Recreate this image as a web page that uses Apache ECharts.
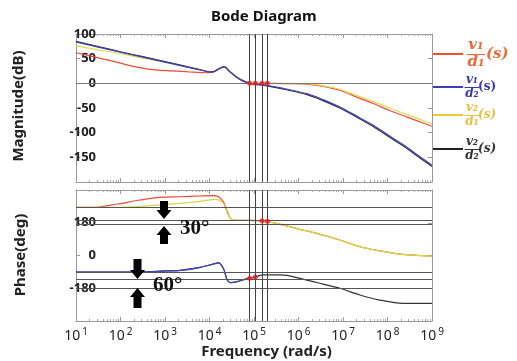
<!DOCTYPE html>
<html>
<head>
<meta charset="utf-8">
<script src="https://cdn.jsdelivr.net/npm/echarts@6/dist/echarts.min.js"></script>
<style>
  html, body { margin: 0; padding: 0; background: #fff; }
  #BodeChart { width: 517px; height: 361px; }
</style>
</head>
<body>
<div id="BodeChart"></div>
<script>
// Bode 图：幅值 + 相位，频率用 log10 指数 [exp, value]
var xTickExp = [1, 2, 3, 4, 5, 6, 7, 8, 9];
var magTicks = [-200, -150, -100, -50, 0, 50, 100];
var phaseTicks = [-360, -180, 0, 180, 360];

var magRed = [[1, 62], [1.55, 50.7], [2, 41], [2.29, 34.5], [2.67, 28.4], [3.05, 25.6], [3.5, 23.5], [3.95, 21.5], [4.1, 23],
  [4.2, 28], [4.33, 33.7], [4.45, 25], [4.6, 14], [4.75, 6], [4.9, 0.5], [5.03, 0], [5.3, 0], [5.8, -0.5], [6.19, -1.5],
  [6.56, -6], [6.93, -14], [7.31, -28], [7.68, -41], [8.05, -55], [8.43, -68], [8.7, -77], [9, -87]];
var magYellow = [[1, 76], [1.5, 68], [2, 60], [2.5, 51], [3, 43], [3.5, 34], [3.8, 28], [4.0, 24], [4.1, 24.5], [4.2, 29],
  [4.33, 34], [4.45, 25], [4.6, 14], [4.75, 6], [4.9, 0.5], [5.03, 0], [5.3, 0], [5.8, 0], [6.19, -0.5], [6.56, -5],
  [6.93, -12], [7.31, -25], [7.68, -37], [8.05, -50], [8.43, -63], [8.7, -72], [9, -82]];
var magBlue = [[1, 84], [1.5, 73.5], [2, 63], [2.5, 53], [3, 43], [3.6, 31], [3.9, 25], [4.0, 23], [4.1, 24], [4.2, 29],
  [4.33, 34], [4.45, 24], [4.6, 13], [4.75, 5], [4.9, 0], [5.03, -1.5], [5.29, -4], [5.7, -11], [6.19, -21],
  [6.55, -33], [6.93, -48], [7.3, -66], [7.68, -85], [8.05, -107], [8.43, -129], [8.7, -147], [9, -166]];
var magBlack = [[1, 85], [1.5, 74.5], [2, 64], [2.5, 54], [3, 44], [3.6, 31.5], [3.9, 25], [4.0, 23], [4.1, 24], [4.2, 29],
  [4.33, 34], [4.45, 24], [4.6, 13], [4.75, 5], [4.9, 0], [5.03, -2], [5.29, -5], [5.7, -12.5], [6.19, -23],
  [6.55, -35], [6.93, -50], [7.3, -68], [7.68, -87.5], [8.05, -109.5], [8.43, -131.5], [8.7, -149.5], [9, -168.5]];

var phaseRed = [[1, 264], [1.39, 264], [1.93, 283], [2.44, 305], [2.89, 320], [3.34, 323], [3.79, 327], [4.08, 329],
  [4.2, 323], [4.31, 296], [4.4, 241], [4.47, 204], [4.53, 195], [4.91, 193], [5.29, 186], [5.65, 168], [6.03, 144],
  [6.41, 122], [6.93, 85], [7.38, 48], [7.83, 25], [8.28, 8], [9, -3]];
var phaseYellow = [[1, 264], [1.6, 264], [2.29, 268], [3.05, 281], [3.79, 298], [4.13, 309], [4.31, 287], [4.42, 223],
  [4.53, 195], [4.91, 193], [5.29, 186], [5.65, 168], [6.03, 144], [6.41, 122], [6.93, 85], [7.38, 48], [7.83, 25],
  [8.28, 8], [9, -3]];
var phaseBlue = [[1, -91], [2.5, -90], [3.0, -85], [3.34, -82], [3.79, -65], [4.08, -47], [4.2, -40], [4.31, -70],
  [4.4, -135], [4.47, -149], [4.62, -144], [4.85, -127], [4.91, -125], [5.03, -118]];
var phaseBlack = [[1, -91], [2.5, -90], [3.0, -85], [3.34, -82], [3.79, -65], [4.08, -47], [4.2, -40], [4.31, -70],
  [4.4, -135], [4.47, -149], [4.62, -144], [4.85, -127], [4.91, -125], [5.03, -118], [5.2, -107], [5.6, -107],
  [6.19, -135], [6.55, -157], [6.93, -180], [7.38, -217], [7.83, -245], [8.35, -263], [9, -263]];

var crossExp = [4.90, 5.03, 5.18, 5.30];
var phaseRefLines = [265, 191, 171, -91, -128, -180];
var dotMag = [[4.90, 0], [5.03, 0], [5.18, 0], [5.30, 0]];
var dotPhase = [[5.18, 191], [5.30, 188], [4.90, -125], [5.03, -118]];

var colors = { red: "#f04a3a", yellow: "#dcdc50", blue: "#4040c0", black: "#333333" };

function toHz(arr) {
  return arr.map(function (p) { return [Math.pow(10, p[0]), p[1]]; });
}

var boldFont = "Noto Sans";
var frameColor = "#999";

function xAxisCfg(grid, pos, labels) {
  return {
    type: "log", logBase: 10, gridIndex: grid, position: pos,
    min: Math.pow(10, xTickExp[0]), max: Math.pow(10, xTickExp[xTickExp.length - 1]),
    axisLine: { show: true, onZero: false, lineStyle: { color: frameColor } },
    axisTick: { show: true, inside: true, length: 4, lineStyle: { color: frameColor } },
    minorTick: { show: true, splitNumber: 9, length: 2, lineStyle: { color: "#aaa" } },
    splitLine: { show: false },
    axisLabel: labels ? {
      show: true, margin: 6, color: "#222", fontFamily: boldFont, fontSize: 14,
      formatter: function (v) { return "10{s|" + Math.round(Math.log10(v)) + "}"; },
      rich: { s: { fontSize: 10, fontFamily: boldFont, color: "#222", verticalAlign: "top", padding: [0, 0, 8, 2] } }
    } : { show: false },
    name: labels ? "Frequency (rad/s)" : "",
    nameLocation: "middle", nameGap: 23,
    nameTextStyle: { fontFamily: boldFont, fontWeight: "bold", fontSize: 15, color: "#222", padding: [0, 0, 0, 25] }
  };
}

// 注意：这里的 margin 用负值把刻度文字拉回轴线旁
function yAxisCfg(grid, pos, ticks, labels) {
  return {
    type: "value", gridIndex: grid, position: pos,
    min: ticks[0], max: ticks[ticks.length - 1], interval: ticks[1] - ticks[0],
    axisLine: { show: true, lineStyle: { color: frameColor } },
    axisTick: { show: true, inside: true, length: 4, lineStyle: { color: frameColor } },
    splitLine: { show: false },
    axisLabel: labels ? {
      show: true, margin: -20, align: "right", verticalAlign: "middle",
      color: "#222", fontFamily: boldFont, fontWeight: "bold", fontSize: 13,
      showMinLabel: false, showMaxLabel: grid === 0
    } : { show: false }
  };
}

function lineSeries(name, data, color, xi, yi, z) {
  return {
    name: name, type: "line", xAxisIndex: xi, yAxisIndex: yi, data: toHz(data),
    showSymbol: false, smooth: 0.3, z: z,
    lineStyle: { color: color, width: 1.2 }, itemStyle: { color: color }
  };
}

function vLines() {
  return {
    silent: true, symbol: "none", label: { show: false },
    lineStyle: { color: "#444", width: 1, type: "solid" },
    data: crossExp.map(function (e) { return { xAxis: Math.pow(10, e) }; })
  };
}

function hLines(values, color) {
  return {
    silent: true, symbol: "none", label: { show: false },
    lineStyle: { color: color, width: 1, type: "solid" },
    data: values.map(function (v) { return { yAxis: v }; })
  };
}

// 右侧图例：分式文本
function fracLegend(y, num, den, lineColor, textColor, fs, cx, sx, upright) {
  var font = { fontFamily: "DejaVu Serif", fontWeight: "bold", fontStyle: "italic", fontSize: fs, fill: textColor };
  var half = fs * 0.62;
  return [
    { type: "line", shape: { x1: 433, y1: y, x2: 463, y2: y }, style: { stroke: lineColor, lineWidth: 2 } },
    { type: "text", x: cx, y: y - 1, style: Object.assign({ text: num, align: "center", verticalAlign: "bottom" }, font) },
    { type: "line", shape: { x1: cx - half, y1: y + 0.5, x2: cx + half, y2: y + 0.5 }, style: { stroke: textColor, lineWidth: 1 } },
    { type: "text", x: cx, y: y + 1, style: Object.assign({ text: den, align: "center", verticalAlign: "top" }, font) },
    { type: "text", x: sx, y: y, style: Object.assign({ text: "(s)", align: "left", verticalAlign: "middle" }, font, upright ? { fontStyle: "normal" } : {}) }
  ];
}

function arrow(cx, y0, y1, down) {
  var hw = 4, hh = 7.5, headLen = 9;
  var pts;
  if (down) {
    var yh = y1 - headLen;
    pts = [[cx - hw, y0], [cx + hw, y0], [cx + hw, yh], [cx + hh, yh], [cx, y1], [cx - hh, yh], [cx - hw, yh]];
  } else {
    var yh2 = y0 + headLen;
    pts = [[cx, y0], [cx + hh, yh2], [cx + hw, yh2], [cx + hw, y1], [cx - hw, y1], [cx - hw, yh2], [cx - hh, yh2]];
  }
  return { type: "polygon", shape: { points: pts }, style: { fill: "#000" }, z: 100 };
}

function axisName(text, x, y) {
  return {
    type: "text", x: x, y: y, rotation: Math.PI / 2,
    style: { text: text, align: "center", verticalAlign: "middle", fontFamily: boldFont, fontWeight: "bold", fontSize: 15, fill: "#222" }
  };
}

var myChart = echarts.init(document.getElementById("BodeChart"), null, { renderer: "canvas" });

var graphics = []
  .concat(fracLegend(54, "v\u2081", "d\u2081", "#ef4f35", "#ea6a3a", 15, 476, 486, false))
  .concat(fracLegend(87, "v\u2081", "d\u2082", "#3c3cbe", "#3a3aa8", 12, 472, 478, true))
  .concat(fracLegend(115, "v\u2082", "d\u2081", "#f0c830", "#e8c040", 12, 472, 478, false))
  .concat(fracLegend(149, "v\u2082", "d\u2082", "#222", "#333", 12, 472, 478, false))
  .concat([
    axisName("Magnitude(dB)", 19, 106),
    axisName("Phase(deg)", 21, 255),
    arrow(164, 201, 219, true), arrow(164, 226, 244, false),
    arrow(137.5, 259, 279, true), arrow(137.5, 288, 308, false),
    { type: "text", x: 180, y: 229, z: 100, style: { text: "30\u00b0", fontFamily: "Liberation Serif", fontWeight: "bold", fontSize: 21, fill: "#111", verticalAlign: "middle" } },
    { type: "text", x: 153, y: 286, z: 100, style: { text: "60\u00b0", fontFamily: "Liberation Serif", fontWeight: "bold", fontSize: 21, fill: "#111", verticalAlign: "middle" } }
  ]);

myChart.setOption({
  animation: false,
  backgroundColor: "#fff",
  title: {
    text: "Bode Diagram", left: 206, top: 4,
    textStyle: { fontFamily: boldFont, fontWeight: "bold", fontSize: 15, color: "#111" }
  },
  grid: [
    { left: 76, top: 34, right: 85, height: 148 },
    { left: 76, top: 190, right: 85, height: 131 }
  ],
  xAxis: [xAxisCfg(0, "bottom", false), xAxisCfg(0, "top", false), xAxisCfg(1, "bottom", true), xAxisCfg(1, "top", false)],
  yAxis: [
    yAxisCfg(0, "left", magTicks, true), yAxisCfg(0, "right", magTicks, false),
    yAxisCfg(1, "left", phaseTicks, true), yAxisCfg(1, "right", phaseTicks, false)
  ],
  series: [
    Object.assign(lineSeries("v1/d1", magRed, colors.red, 0, 0, 3), { markLine: hLines([0], "#777") }),
    Object.assign(lineSeries("v2/d1", magYellow, colors.yellow, 0, 0, 3), { markLine: vLines() }),
    lineSeries("v2/d2", magBlack, colors.black, 0, 0, 3),
    lineSeries("v1/d2", magBlue, colors.blue, 0, 0, 4),
    Object.assign(lineSeries("v1/d1 phase", phaseRed, colors.red, 2, 2, 3), { markLine: hLines(phaseRefLines, "#555") }),
    Object.assign(lineSeries("v2/d1 phase", phaseYellow, "#d2dc44", 2, 2, 4), { markLine: vLines() }),
    lineSeries("v2/d2 phase", phaseBlack, colors.black, 2, 2, 3),
    lineSeries("v1/d2 phase", phaseBlue, colors.blue, 2, 2, 4),
    { type: "scatter", xAxisIndex: 0, yAxisIndex: 0, data: toHz(dotMag), symbolSize: 5, itemStyle: { color: "#e81e1e" }, z: 6 },
    { type: "scatter", xAxisIndex: 2, yAxisIndex: 2, data: toHz(dotPhase), symbolSize: 5, itemStyle: { color: "#e81e1e" }, z: 6 }
  ],
  graphic: graphics
});
</script>
</body>
</html>
